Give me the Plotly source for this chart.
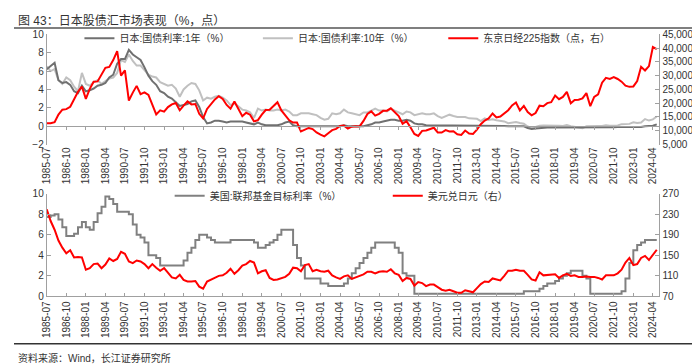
import pandas as pd
import plotly.graph_objects as go

# ---------------- data (quarterly readings, 1985-07 .. 2024-07) ----------------
nikkei = [12700, 12700,
    13100, 15900, 17650, 17850,  18700, 21570, 24180, 26010,  21560, 25200, 27770, 27920,
    30160, 32840, 33180, 35640,  38920, 29980, 31940, 20980,  23850, 26290, 23290, 23920,
    22980, 19350, 15950, 17400,  16920, 18590, 19590, 20100,  17420, 19110, 20640, 19560,
    19720, 16140, 14520, 17910,  19870, 21400, 22530, 21560,  19360, 18000, 20600, 17890,
    15260, 16530, 15830, 13410,  13840, 15840, 17530, 17600,  18930, 20340, 17410, 15750,
    13790, 12990, 12970, 9770,   10540, 11020, 10620, 9380,   8580, 7970, 9080, 10220,
    10680, 11720, 11860, 10820,  11490, 11670, 11580, 13570,  16110, 17060, 15500, 16130,
    17230, 17290, 18140, 16790,  15310, 12530, 13480, 11260,  8860, 8110, 9960, 10130,
    10550, 11090, 9380, 9370,    10230, 9760, 9820, 8700,     8460, 10080, 9010, 8870,
    10400, 12400, 13680, 14460,  16290, 14830, 15160, 16170,  17450, 19210, 20240, 17390,
    19030, 16760, 15580, 16450,  19110, 18910, 20030, 20360,  22760, 21450, 22300, 24120,
    20010, 21210, 21280, 21760,  23660, 18920, 22290, 23190,  27440, 29180, 28790, 29450,
    28790, 27820, 26390, 25940,  26090, 28040, 33190, 31860,  33460, 40370, 39580]

jgb_1y = [6.2, 6.6,
    6.9, 5.0, 4.7, 4.8,   4.5, 3.8, 3.6, 4.4,   3.8, 3.9, 4.1, 4.4,
    4.5, 4.7, 5.3, 5.6,   6.8, 7.3, 7.3, 8.3,   7.8, 7.5, 7.2, 6.4,
    5.5, 4.9, 4.5, 3.8,   3.6, 3.2, 3.0, 2.6,   2.2, 2.3, 2.4, 2.7,
    2.8, 2.1, 1.0, 0.3,   0.4, 0.6, 0.6, 0.5,   0.4, 0.5, 0.5, 0.5,
    0.5, 0.4, 0.3, 0.2,   0.4, 0.2, 0.1, 0.1,   0.1, 0.1, 0.2, 0.4,
    0.5, 0.1, 0.0, 0.0,   0.0, 0.0, 0.0, 0.0,   0.0, 0.0, 0.0, 0.0,
    0.0, 0.0, 0.1, 0.0,   0.0, 0.0, 0.0, 0.0,   0.1, 0.2, 0.4, 0.4,
    0.5, 0.6, 0.7, 0.7,   0.6, 0.6, 0.7, 0.6,   0.3, 0.2, 0.2, 0.1,
    0.1, 0.1, 0.1, 0.1,   0.1, 0.1, 0.1, 0.1,   0.1, 0.1, 0.1, 0.1,
    0.1, 0.05, 0.05, 0.05,  0.05, 0.05, 0.05, 0.02,  0.0, 0.0, 0.0, 0.0,
    -0.02, -0.2, -0.3, -0.25,  -0.2, -0.15, -0.15, -0.15,  -0.15, -0.15, -0.15, -0.15,
    -0.15, -0.15, -0.2, -0.2,  -0.15, -0.15, -0.15, -0.15,  -0.12, -0.12, -0.12, -0.12,
    -0.1, -0.1, -0.1, -0.1,  -0.05, -0.1, -0.08, 0.0,  0.03, 0.05, 0.2]

jgb_10y = [6.5, 6.0,
    6.2, 5.0, 4.6, 5.3,   5.0, 4.3, 3.8, 5.8,   4.6, 4.4, 4.8, 5.0,
    4.6, 4.9, 5.2, 5.3,   5.8, 7.2, 7.0, 7.8,   7.1, 6.6, 6.6, 6.1,
    5.6, 5.4, 5.3, 4.8,   4.6, 4.4, 4.5, 4.1,   3.2, 4.0, 4.4, 4.7,
    4.6, 3.9, 2.8, 3.1,   3.0, 3.2, 3.3, 3.1,   2.8, 2.3, 2.5, 2.1,
    1.8, 1.7, 1.5, 0.9,   1.9, 1.7, 1.8, 1.7,   1.7, 1.8, 1.7, 1.8,
    1.6, 1.2, 1.2, 1.4,   1.4, 1.4, 1.3, 1.2,   0.9, 0.7, 0.8, 1.4,
    1.3, 1.4, 1.8, 1.5,   1.4, 1.3, 1.2, 1.5,   1.5, 1.7, 1.9, 1.7,
    1.7, 1.6, 1.9, 1.7,   1.5, 1.3, 1.6, 1.5,   1.2, 1.3, 1.4, 1.3,
    1.3, 1.4, 1.1, 0.9,   1.1, 1.25, 1.1, 1.0,  1.0, 1.0, 0.85, 0.8,
    0.8, 0.56, 0.85, 0.68,  0.74, 0.64, 0.57, 0.52,  0.33, 0.4, 0.45, 0.35,
    0.27, -0.03, -0.22, -0.09,  0.05, 0.07, 0.08, 0.07,  0.05, 0.05, 0.03, 0.12,
    0.0, -0.09, -0.16, -0.21,  -0.02, 0.02, 0.03, 0.02,  0.02, 0.09, 0.06, 0.07,
    0.07, 0.22, 0.23, 0.25,  0.42, 0.35, 0.4, 0.77,  0.61, 0.74, 1.05]

fed_funds = [7.75, 7.9,
    8.0, 7.5, 6.75, 5.9,   5.9, 6.1, 6.75, 7.25,   6.75, 6.5, 7.25, 8.1,
    8.75, 9.75, 9.5, 9.0,  8.25, 8.25, 8.25, 8.0,  7.0, 6.0, 5.75, 5.25,
    4.0, 4.0, 3.75, 3.0,   3.0, 3.0, 3.0, 3.0,     3.0, 3.5, 4.25, 4.75,
    5.5, 6.0, 6.0, 5.75,   5.5, 5.25, 5.25, 5.25,  5.25, 5.5, 5.5, 5.5,
    5.5, 5.5, 5.5, 5.25,   4.75, 4.75, 5.0, 5.25,  5.5, 6.0, 6.5, 6.5,
    6.5, 5.0, 3.75, 3.0,   1.75, 1.75, 1.75, 1.75, 1.25, 1.25, 1.0, 1.0,
    1.0, 1.0, 1.25, 1.75,  2.25, 2.75, 3.25, 3.75, 4.25, 4.75, 5.25, 5.25,
    5.25, 5.25, 5.25, 4.75,  4.25, 2.25, 2.0, 2.0,  0.25, 0.25, 0.25, 0.25,
    0.25, 0.25, 0.25, 0.25,  0.25, 0.25, 0.25, 0.25,  0.25, 0.25, 0.25, 0.25,
    0.25, 0.25, 0.25, 0.25,  0.25, 0.25, 0.25, 0.25,  0.25, 0.25, 0.25, 0.25,
    0.5, 0.5, 0.5, 0.5,    0.75, 1.0, 1.25, 1.25,  1.5, 1.75, 2.0, 2.25,
    2.5, 2.5, 2.5, 2.0,    1.75, 0.25, 0.25, 0.25,  0.25, 0.25, 0.25, 0.25,
    0.25, 0.5, 1.75, 3.25,  4.5, 5.0, 5.25, 5.5,  5.5, 5.5, 5.5]

usd_jpy = [240, 217,
    200, 179, 165, 154,   160, 146, 147, 146,   122, 125, 133, 134,
    125, 132, 144, 139,   143, 157, 153, 138,   135, 140, 138, 133,
    125, 133, 126, 120,   125, 115, 107, 105,   112, 102, 99, 99,
    100, 89, 85, 99,      103, 107, 110, 111,   116, 124, 114, 121,
    130, 133, 139, 136,   115, 119, 121, 106,   102, 103, 106, 108,
    114, 126, 125, 119,   131, 133, 119, 122,   119, 118, 120, 111,
    107, 104, 109, 111,   104, 107, 111, 113,   118, 118, 115, 118,
    119, 118, 123, 115,   112, 100, 106, 104,   91, 98, 96, 90,
    93, 93, 88, 83,       81, 83, 80, 77,       77, 82, 80, 78,
    86, 94, 99, 98,       105, 103, 101, 110,   120, 120, 122, 120,
    120, 112, 103, 101,   117, 111, 112, 113,   113, 106, 111, 114,
    110, 111, 108, 108,   109, 108, 108, 106,   103, 111, 111, 111,
    115, 122, 136, 145,   131, 133, 145, 149,   141, 151, 161]

dates = pd.date_range("1985-07-01", periods=len(nikkei), freq="QS")
tick_dates = pd.date_range("1985-07-01", "2024-04-01", freq="15MS")
x_range = ["1985-07-01", "2024-09-01"]

title_text = "图 43：日本股债汇市场表现（%，点）"
source_text = "资料来源：Wind，长江证券研究所"
names = ["日本:国债利率:1年（%）", "日本:国债利率:10年（%）", "东京日经225指数（点，右）",
         "美国:联邦基金目标利率（%）", "美元兑日元（右）"]

# ---------------- styling ----------------
W, H = 700, 364
FONT = "Liberation Sans, Arial, Noto Sans CJK SC"
RED = "#ff0000"
DARK = "#707070"
LIGHT = "#c0c0c0"
MID = "#808080"
AX = "#a0a0a0"
TXT = "#333333"

xd = [33 / W, 651 / W]
top_dom = [(H - 135) / H, (H - 21) / H]
bot_dom = [(H - 292) / H, (H - 186) / H]
zero_pos = top_dom[0] + (2 / 12) * (top_dom[1] - top_dom[0])

fig = go.Figure()
fig.add_trace(go.Scatter(x=dates, y=jgb_10y, name=names[1], legend="legend2",
                         line=dict(color=LIGHT, width=2), xaxis="x", yaxis="y"))
fig.add_trace(go.Scatter(x=dates, y=jgb_1y, name=names[0], legend="legend",
                         line=dict(color=DARK, width=2), xaxis="x", yaxis="y"))
fig.add_trace(go.Scatter(x=dates, y=nikkei, name=names[2], legend="legend3",
                         line=dict(color=RED, width=2), xaxis="x", yaxis="y2"))
# invisible helper trace so the zero-line axis (x3) is drawn
fig.add_trace(go.Scatter(x=[dates[0], dates[-1]], y=[None, None], showlegend=False,
                         hoverinfo="skip", xaxis="x3", yaxis="y"))
fig.add_trace(go.Scatter(x=dates, y=fed_funds, name=names[3], legend="legend4",
                         line=dict(color=MID, width=2, shape="hv"), xaxis="x2", yaxis="y3"))
fig.add_trace(go.Scatter(x=dates, y=usd_jpy, name=names[4], legend="legend5",
                         line=dict(color=RED, width=2), xaxis="x2", yaxis="y4"))

tick_common = dict(tickvals=tick_dates, tickformat="%Y-%m", tickangle=-90,
                   tickfont=dict(size=10, color=TXT, family=FONT), range=x_range,
                   showgrid=False, zeroline=False)
yfont = dict(size=10, color=TXT, family=FONT)

def leg(x, y):
    return dict(x=x, y=y, xanchor="left", yanchor="middle", orientation="h",
                bgcolor="rgba(0,0,0,0)", font=dict(size=10, color=TXT, family=FONT),
                itemclick=False, tracegroupgap=0)

fig.update_layout(
    width=W, height=H, margin=dict(l=0, r=0, t=0, b=0),
    paper_bgcolor="white", plot_bgcolor="white",
    font=dict(family=FONT, color=TXT, size=10),
    xaxis=dict(domain=xd, anchor="y", showline=False, ticks="", **tick_common),
    xaxis3=dict(overlaying="x", matches="x", anchor="free", position=zero_pos,
                showline=True, linecolor=AX, linewidth=1, ticks="outside", ticklen=3,
                tickcolor=AX, tickvals=tick_dates, showticklabels=False,
                showgrid=False, zeroline=False, range=x_range),
    yaxis=dict(domain=top_dom, anchor="x", range=[-2, 10], tick0=-2, dtick=2, showline=True,
               linecolor=AX, ticks="inside", ticklen=4, tickcolor=AX, showgrid=False,
               zeroline=False, tickfont=yfont),
    yaxis2=dict(overlaying="y", side="right", anchor="x", range=[5000, 45000],
                tick0=5000, dtick=5000,
                tickformat=",", showline=True, linecolor=AX, ticks="inside", ticklen=4,
                tickcolor=AX, showgrid=False, zeroline=False, tickfont=yfont),
    xaxis2=dict(domain=xd, anchor="y3", showline=True, linecolor=AX, ticks="inside",
                ticklen=3, tickcolor=AX, **tick_common),
    yaxis3=dict(domain=bot_dom, anchor="x2", range=[0, 10], tick0=0, dtick=2, showline=True,
                linecolor=AX, ticks="inside", ticklen=4, tickcolor=AX, showgrid=False,
                zeroline=False, tickfont=yfont),
    yaxis4=dict(overlaying="y3", side="right", anchor="x2", range=[70, 270],
                tick0=70, dtick=40,
                showline=True, linecolor=AX, ticks="inside", ticklen=4, tickcolor=AX,
                showgrid=False, zeroline=False, tickfont=yfont),
    legend=leg(66 / W, (H - 25) / H),
    legend2=leg(246 / W, (H - 25) / H),
    legend3=leg(433 / W, (H - 25) / H),
    legend4=leg(157 / W, (H - 188) / H),
    legend5=leg(377 / W, (H - 188) / H),
    showlegend=True,
    annotations=[
        dict(text=title_text, xref="paper", yref="paper", x=2 / W, y=(H - 7) / H,
             xanchor="left", yanchor="middle", showarrow=False,
             font=dict(size=12, color=TXT, family=FONT)),
        dict(text=source_text, xref="paper", yref="paper", x=2 / W, y=(H - 356) / H,
             xanchor="left", yanchor="middle", showarrow=False,
             font=dict(size=10, color=TXT, family=FONT)),
    ],
    shapes=[
        dict(type="line", xref="paper", yref="paper", x0=0, x1=1,
             y0=(H - 14.5) / H, y1=(H - 14.5) / H, line=dict(color="#555555", width=1.5)),
        dict(type="line", xref="paper", yref="paper", x0=0, x1=1,
             y0=(H - 341) / H, y1=(H - 341) / H, line=dict(color="#333333", width=1.5)),
    ],
)

fig.write_html("out.html")
